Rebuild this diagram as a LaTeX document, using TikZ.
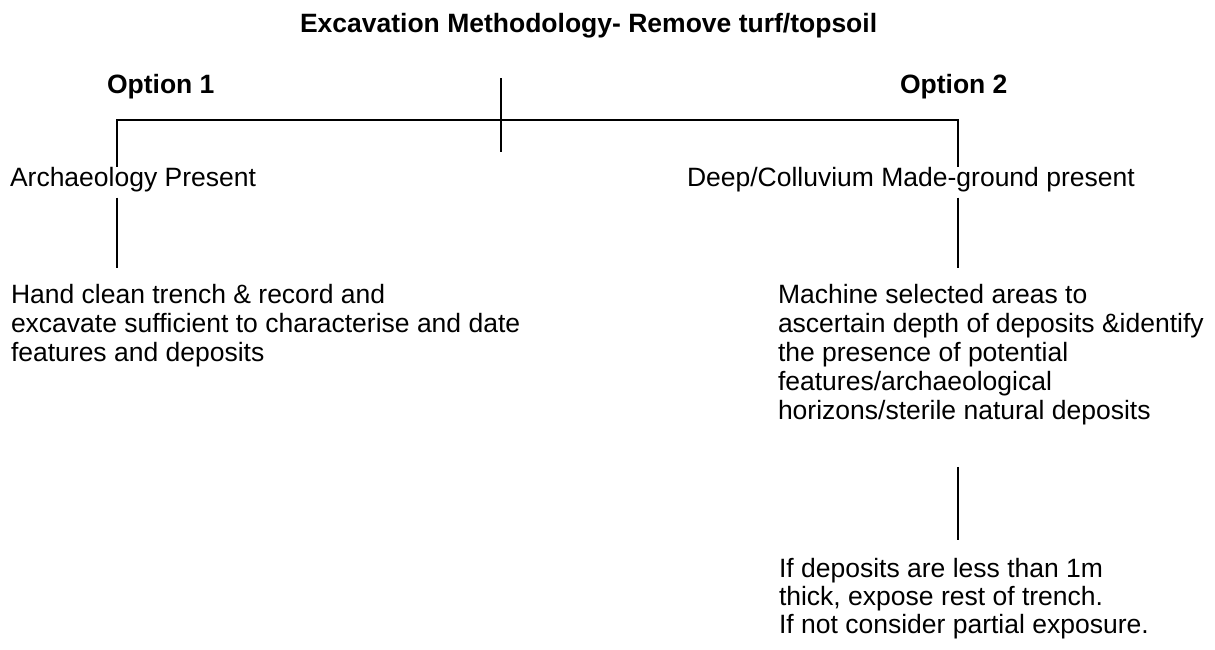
\documentclass[tikz,border=0pt]{standalone}
\usepackage{fontspec}
\setmainfont{Liberation Sans}
\usetikzlibrary{calc}
\begin{document}
\begin{tikzpicture}[x=1pt,y=-1pt,
  lbl/.style={inner sep=0pt, outer sep=0pt, font=\fontsize{26.5}{29}\selectfont, align=left},
  closer/.style={lbl, font=\fontsize{26.5}{28}\selectfont},
  hdr/.style={inner sep=0pt, outer sep=0pt, font=\fontsize{26.5}{29}\selectfont\bfseries},
  link/.style={line width=1.8pt, draw=black}]
\useasboundingbox (0,0) rectangle (1215,649);

% headings
\node[hdr, anchor=base west] (title) at (300,32) {Excavation Methodology- Remove turf/topsoil};
\node[hdr, anchor=base west] (opt1) at (107,93) {Option 1};
\node[hdr, anchor=base west] (opt2) at (900,93) {Option 2};

% bracket corners
\coordinate (lc) at (117,120);
\coordinate (rc) at (958,120);
\coordinate (mt) at (501,78);
\coordinate (mb) at (501,152);

% branch labels
\node[lbl, anchor=base west] (arch) at (10,186) {Archaeology Present};
\node[lbl, anchor=base west] (deep) at (687,186) {Deep/Colluvium Made-ground present};

% actions
\node[lbl, anchor=north west] (hand) at (11,284.7)
  {Hand clean trench \& record and\\
   excavate sufficient to characterise and date\\
   features and deposits};
\node[lbl, anchor=north west] (mach) at (778,284.7)
  {Machine selected areas to\\
   ascertain depth of deposits \&identify\\
   the presence of potential\\
   features/archaeological\\
   horizons/sterile natural deposits};
\node[closer, anchor=north west] (ifd) at (779,558.7)
  {If deposits are less than 1m\\
   thick, expose rest of trench.\\
   If not consider partial exposure.};

% connectors
\draw[link] (mt) -- (mb);
\draw[link] (arch.north -| lc) -- (lc) -- (rc) -- (deep.north -| rc);
\draw[link] ($(arch.south -| lc)+(0,6)$) -- ($(hand.north -| lc)+(0,-17)$);
\draw[link] ($(deep.south -| rc)+(0,6)$) -- ($(mach.north -| rc)+(0,-17)$);
\draw[link] ($(mach.south -| rc)+(0,41.4)$) -- ($(ifd.north -| rc)+(0,-18.7)$);
\end{tikzpicture}
\end{document}
